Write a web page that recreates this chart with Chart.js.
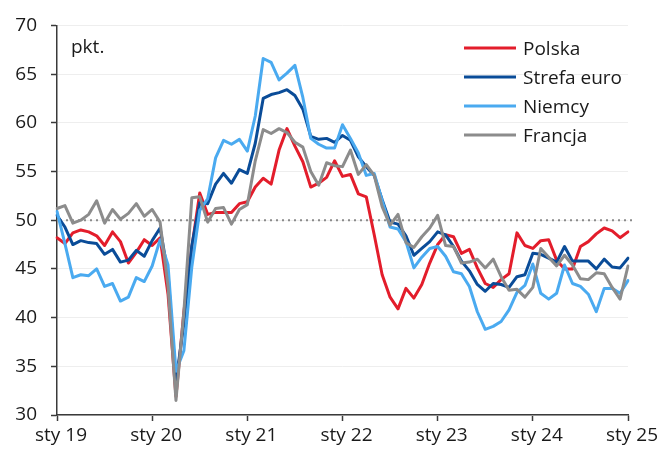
<!DOCTYPE html>
<html>
<head>
<meta charset="utf-8">
<script src="https://cdn.jsdelivr.net/npm/chart.js@4/dist/chart.umd.min.js"></script>
<style>
html,body{margin:0;padding:0;background:#ffffff;}
#wrap{width:670px;height:450px;position:relative;}
</style>
</head>
<body>
<div id="wrap"><canvas id="c" width="670" height="450"></canvas></div>
<script>
// ---- data ----
const monthNames = ['sty','lut','mar','kwi','maj','cze','lip','sie','wrz','paź','lis','gru'];
const years = ['19','20','21','22','23','24','25'];
const categories = [];
years.forEach((y, yi) => {
  monthNames.forEach((m, mi) => {
    if (yi < years.length - 1 || mi === 0) categories.push(m + ' ' + y);
  });
});

const seriesNames = ['Polska', 'Strefa euro', 'Niemcy', 'Francja'];

const polska = [
  48.2,47.6,48.7,49.0,48.8,48.4,47.4,48.8,47.8,45.6,46.7,48.0,
  47.4,48.2,42.4,31.9,40.6,47.2,52.8,50.6,50.8,50.8,50.8,51.7,
  51.9,53.4,54.3,53.7,57.2,59.4,57.6,56.0,53.4,53.8,54.4,56.1,
  54.5,54.7,52.7,52.4,48.5,44.4,42.1,40.9,43.0,42.0,43.4,45.6,
  47.5,48.5,48.3,46.6,47.0,45.1,43.5,43.1,43.9,44.5,48.7,47.4,
  47.1,47.9,48.0,45.9,45.0,45.0,47.3,47.8,48.6,49.2,48.9,48.2,
  48.8
];
const strefaEuro = [
  50.5,49.3,47.5,47.9,47.7,47.6,46.5,47.0,45.7,45.9,46.9,46.3,
  47.9,49.2,44.5,33.4,39.4,47.4,51.8,51.7,53.7,54.8,53.8,55.2,
  54.8,57.9,62.5,62.9,63.1,63.4,62.8,61.4,58.6,58.3,58.4,58.0,
  58.7,58.2,56.5,55.5,54.6,52.1,49.8,49.6,48.4,46.4,47.1,47.8,
  48.8,48.5,47.3,45.8,44.8,43.4,42.7,43.5,43.4,43.1,44.2,44.4,
  46.6,46.5,46.1,45.7,47.3,45.8,45.8,45.8,45.0,46.0,45.2,45.1,
  46.1
];
const niemcy = [
  50.9,47.6,44.1,44.4,44.3,45.0,43.2,43.5,41.7,42.1,44.1,43.7,
  45.3,48.0,45.4,34.5,36.6,45.2,51.0,52.2,56.4,58.2,57.8,58.3,
  57.1,60.7,66.6,66.2,64.4,65.1,65.9,62.6,58.4,57.8,57.4,57.4,
  59.8,58.4,56.9,54.6,54.8,52.0,49.3,49.1,47.8,45.1,46.2,47.1,
  47.3,46.3,44.7,44.5,43.2,40.6,38.8,39.1,39.6,40.8,42.6,43.3,
  45.5,42.5,41.9,42.5,45.4,43.5,43.2,42.4,40.6,43.0,43.0,42.5,
  43.8
];
const francja = [
  51.2,51.5,49.7,50.0,50.6,52.0,49.7,51.1,50.1,50.7,51.7,50.4,
  51.1,49.8,43.2,31.5,40.6,52.3,52.4,49.8,51.2,51.3,49.6,51.1,
  51.6,56.1,59.3,58.9,59.4,59.0,58.0,57.5,55.0,53.6,55.9,55.6,
  55.5,57.2,54.7,55.7,54.6,51.4,49.5,50.6,47.7,47.2,48.3,49.2,
  50.5,47.4,47.3,45.6,45.7,46.0,45.1,46.0,44.2,42.8,42.9,42.1,
  43.1,47.1,46.2,45.3,46.4,45.4,44.0,43.9,44.6,44.5,43.1,41.9,
  45.3
];
const yTickValues = [30, 35, 40, 45, 50, 55, 60, 65, 70];
const referenceLevel = 50;
const unitLabel = 'pkt.';

// ---- styling ----
const FONT = "'Open Sans', 'DejaVu Sans', sans-serif";
const colors = ['#e31d2b', '#0a4c98', '#4aaaf0', '#8c8c8c'];
const axisColor = '#3a3a3a';
const textColor = '#1a1a1a';

const refLinePlugin = {
  id: 'refLine',
  beforeDatasetsDraw(chart) {
    const {ctx, chartArea, scales} = chart;
    const y = scales.y.getPixelForValue(referenceLevel);
    ctx.save();
    ctx.strokeStyle = '#8a8a8a';
    ctx.lineWidth = 2;
    ctx.setLineDash([2, 4]);
    ctx.beginPath();
    ctx.moveTo(chartArea.left + 3, y);
    ctx.lineTo(chartArea.right + 4, y);
    ctx.stroke();
    ctx.restore();
  }
};

const legendPlugin = {
  id: 'customLegend',
  afterDraw(chart) {
    const {ctx} = chart;
    ctx.save();
    ctx.font = '19px ' + FONT;
    ctx.fillStyle = textColor;
    ctx.textAlign = 'left';
    ctx.textBaseline = 'alphabetic';
    ctx.fillText(unitLabel, 71, 53);
    chart.data.datasets.forEach((ds, i) => {
      const y = 48 + i * 29;
      ctx.strokeStyle = ds.borderColor;
      ctx.lineWidth = 3;
      ctx.lineCap = 'butt';
      ctx.beginPath();
      ctx.moveTo(464, y);
      ctx.lineTo(516, y);
      ctx.stroke();
      ctx.fillStyle = textColor;
      ctx.fillText(ds.label, 523, y + 7);
    });
    ctx.restore();
  }
};

const seriesData = [polska, strefaEuro, niemcy, francja];
const datasets = seriesData.map((d, i) => ({
  label: seriesNames[i],
  data: d,
  borderColor: colors[i],
  backgroundColor: colors[i],
  borderWidth: 3,
  pointRadius: 0,
  pointHoverRadius: 0,
  tension: 0,
  borderJoinStyle: 'round',
  borderCapStyle: 'round',
  fill: false,
  order: 3 - i
}));

new Chart(document.getElementById('c'), {
  type: 'line',
  data: { labels: categories, datasets },
  options: {
    responsive: false,
    animation: false,
    events: [],
    layout: { padding: { top: 20, right: 42, left: 0, bottom: 0 } },
    plugins: {
      legend: { display: false },
      tooltip: { enabled: false }
    },
    scales: {
      x: {
        type: 'category',
        offset: false,
        afterFit(scale) { scale.height = 35; },
        grid: {
          display: true,
          drawOnChartArea: false,
          drawTicks: true,
          tickLength: 6,
          tickColor: axisColor,
          tickWidth: 1.5
        },
        border: { display: true, color: axisColor, width: 1.5 },
        ticks: {
          autoSkip: false,
          maxRotation: 0,
          minRotation: 0,
          padding: 3,
          labelOffset: 4,
          color: textColor,
          font: { family: FONT, size: 19 },
          callback: (v, i) => (i % 12 === 0 ? categories[i] : null)
        }
      },
      y: {
        min: yTickValues[0],
        max: yTickValues[yTickValues.length - 1],
        afterFit(scale) { scale.width = 57; },
        afterBuildTicks(scale) { scale.ticks = yTickValues.map(v => ({ value: v })); },
        grid: {
          display: true,
          drawOnChartArea: true,
          color: '#eeeeee',
          lineWidth: 1,
          drawTicks: true,
          tickLength: 6,
          tickColor: axisColor,
          tickWidth: 1.5
        },
        border: { display: true, color: axisColor, width: 1.5 },
        ticks: {
          padding: 14,
          color: textColor,
          font: { family: FONT, size: 19 }
        }
      }
    }
  },
  plugins: [refLinePlugin, legendPlugin]
});
</script>
</body>
</html>
